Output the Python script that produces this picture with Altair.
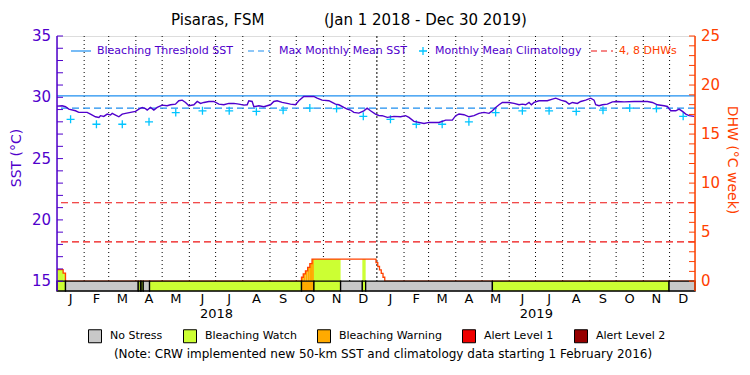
import altair as alt
import pandas as pd

# ---------------- data ----------------
BASE = pd.Timestamp("2018-01-01")
END_DAY = 728  # Dec 30 2019

# daily SST (days since Jan 1 2018, deg C)
sst_day = [0, 5.9, 9.7, 13.5, 21.1, 24.9, 34.4, 38.2, 43.9, 47.8,
           49.6, 53.4, 57.3, 61.1, 63.0, 66.8, 70.6, 74.4, 78.2, 83.9,
           89.6, 93.4, 97.2, 101.0, 102.9, 106.7, 110.5, 114.3, 120.0, 125.7,
           129.5, 135.2, 139.0, 142.9, 146.7, 150.5, 156.2, 160.0, 163.8, 167.6,
           173.3, 179.0, 184.7, 190.4, 196.1, 201.8, 207.5, 213.2, 217.0, 218.9,
           222.7, 224.6, 230.3, 236.0, 239.8, 243.6, 247.4, 251.2, 256.9, 262.6,
           266.4, 272.1, 275.9, 281.6, 293.0, 296.8, 302.5, 310.2, 314.0, 317.8,
           321.6, 327.3, 331.1, 334.9, 338.7, 344.4, 350.1, 353.9, 357.7, 363.4,
           367.2,
           371.0, 376.9, 384.5, 392.1, 397.8, 401.6, 407.3, 418.8, 424.5, 435.9,
           443.5, 451.1, 454.9, 458.7, 464.4, 470.1, 475.8, 481.5, 487.3, 493.0,
           496.8, 500.6, 504.4, 508.2, 515.8, 521.5, 527.2, 531.0, 534.8, 538.6,
           541.3, 544.3, 550.0, 559.5, 565.3, 569.1, 574.8, 580.5, 584.3, 588.1,
           593.8, 597.6, 603.3, 609.0, 612.8, 614.7, 618.5, 622.3, 628.0, 633.8,
           639.5, 647.1, 658.5, 673.7, 679.4, 685.1, 692.7, 696.5, 700.3, 706.1,
           709.8, 713.7, 717.5, 721.3, 727.0]
sst_val = [29.28, 29.31, 29.23, 29.04, 28.90, 28.77, 28.77, 28.63, 28.41, 28.36,
           28.50, 28.44, 28.63, 28.55, 28.69, 28.55, 28.41, 28.63, 28.69, 28.77,
           28.85, 29.04, 29.17, 29.07, 28.96, 29.17, 28.96, 29.17, 29.36, 29.31,
           29.39, 29.44, 29.72, 29.77, 29.58, 29.31, 29.39, 29.66, 29.50, 29.58,
           29.66, 29.66, 29.44, 29.39, 29.50, 29.50, 29.44, 29.36, 29.39, 29.72,
           29.66, 29.23, 29.31, 29.23, 29.31, 29.39, 29.66, 29.72, 29.58, 29.50,
           29.44, 29.39, 29.72, 30.07, 30.07, 29.93, 29.77, 29.72, 29.58, 29.44,
           29.39, 29.17, 29.04, 28.96, 28.77, 28.71, 28.90, 29.12, 28.90, 28.63,
           28.52,
           28.50, 28.36, 28.44, 28.41, 28.50, 28.36, 28.04, 27.87, 27.95, 27.95,
           28.14, 28.14, 28.50, 28.63, 28.58, 28.41, 28.50, 28.69, 28.77, 28.69,
           28.90, 29.17, 29.39, 29.58, 29.58, 29.50, 29.39, 29.44, 29.39, 29.58,
           29.39, 29.58, 29.72, 29.72, 29.85, 29.93, 29.77, 29.66, 29.44, 29.58,
           29.50, 29.66, 29.77, 29.93, 29.77, 29.39, 29.31, 29.39, 29.44, 29.63,
           29.66, 29.63, 29.66, 29.66, 29.58, 29.39, 29.31, 29.25, 28.90, 28.90,
           29.04, 28.85, 28.63, 28.50, 28.44]

# monthly mean climatology (Jan..Dec)
clim_vals = [28.2, 27.8, 27.8, 28.0, 28.75, 28.9, 28.9, 28.85, 28.95, 29.12, 29.08, 28.45]
MMM = 29.12
THRESHOLD = 30.12
DHW_LINES = [4, 8]

# DHW as steps: start day, value
dhw_day = [0, 7, 9.7, 279, 281, 283.5, 286, 288.5, 291, 364, 366, 368, 370, 372, 374]
dhw_val = [1.17, 0.83, 0, 0.4, 0.75, 1.05, 1.4, 1.8, 2.26, 1.9, 1.5, 1.15, 0.8, 0.4, 0]

# alert level periods: start day, level
alert_day = [0, 9.7, 92.7, 95.3, 96, 98.4, 105.6, 279, 293.2, 323.6, 348.4, 352.2, 496.8, 698.4]
alert_lvl = ["Bleaching Watch", "No Stress", "Bleaching Watch", "No Stress", "Bleaching Watch",
             "No Stress", "Bleaching Watch", "Bleaching Warning", "Bleaching Watch", "No Stress",
             "Bleaching Watch", "No Stress", "Bleaching Watch", "No Stress"]

levels = ["No Stress", "Bleaching Watch", "Bleaching Warning", "Alert Level 1", "Alert Level 2"]
level_colors = ["#c8c8c8", "#ccff33", "#ffaa00", "#ee0000", "#960000"]
month_letters = ["J", "F", "M", "A", "M", "J", "J", "A", "S", "O", "N", "D"]
years = [2018, 2019]
sst_labels = [15, 20, 25, 30, 35]
dhw_labels = [0, 5, 10, 15, 20, 25]

# ---------------- helpers ----------------
def iso(day):
    return (BASE + pd.Timedelta(days=float(day))).strftime("%Y-%m-%dT%H:%M:%S")

W, H = 638, 255
PURPLE = "#5000cc"
BLUE = "#1e8ff0"
CYAN = "#00c4ff"
ORANGE = "#ff4000"
RED = "#ee1111"
FONT = "DejaVu Sans"

SST_LO, SST0, SST1 = 14.2, 15, 35   # plot bottom, left axis range
DHW0, DHW1 = 0, 25                  # right axis range (same pixels as 15..35)
K = (SST1 - SST0) / (DHW1 - DHW0)
TO_SST = f"{SST0} + datum.dhw * {K}"
BAR_PX = H * (SST0 - SST_LO) / (SST1 - SST_LO)   # height of the alert strip

x_scale = alt.Scale(domain=[alt.DateTime(year=2018, month=1, date=1),
                            alt.DateTime(year=2019, month=12, date=30)])
sst_scale = alt.Scale(domain=[SST_LO, SST1], nice=False, zero=False)

sst_df = pd.DataFrame({"date": [iso(d) for d in sst_day], "sst": sst_val})

clim_rows, month_rows, grid_rows = [], [], []
for y in years:
    for m in range(12):
        start = pd.Timestamp(year=y, month=m + 1, day=1)
        mid = start + pd.Timedelta(days=start.days_in_month / 2)
        clim_rows.append({"date": mid.strftime("%Y-%m-%dT%H:%M:%S"), "clim": clim_vals[m]})
        month_rows.append({"date": mid.strftime("%Y-%m-%dT%H:%M:%S"), "lab": month_letters[m]})
        if not (y == 2018 and m == 0):
            grid_rows.append({"date": start.strftime("%Y-%m-%dT%H:%M:%S"),
                              "kind": "year" if m == 0 else "month"})
clim_df = pd.DataFrame(clim_rows)
month_df = pd.DataFrame(month_rows)
grid_df = pd.DataFrame(grid_rows)
year_df = pd.DataFrame({"date": [pd.Timestamp(year=y, month=7, day=2).strftime("%Y-%m-%dT%H:%M:%S") for y in years],
                        "lab": [str(y) for y in years]})

alert_end = alert_day[1:] + [END_DAY]
alert_df = pd.DataFrame({"start": [iso(d) for d in alert_day], "end": [iso(d) for d in alert_end],
                         "level": alert_lvl})

dhw_end = dhw_day[1:] + [END_DAY]
dhw_line_df = pd.DataFrame({"date": [iso(d) for d in dhw_day + [END_DAY]], "dhw": dhw_val + [0]})
fill_rows = []
for s0, e0, v in zip(dhw_day, dhw_end, dhw_val):
    if v <= 0:
        continue
    for s1, e1, lev in zip(alert_day, alert_end, alert_lvl):
        if lev == "No Stress":
            continue
        a, b = max(s0, s1), min(e0, e1)
        if b > a:
            fill_rows.append({"start": iso(a), "end": iso(b), "dhw": v, "level": lev})
fill_df = pd.DataFrame(fill_rows)

color_scale = alt.Scale(domain=levels, range=level_colors)
alert_legend = alt.Legend(orient="none", legendX=31, legendY=293, direction="horizontal",
                          columns=5, title=None, symbolType="square", symbolSize=169,
                          symbolStrokeColor="black", symbolStrokeWidth=1,
                          symbolOpacity=1, labelFontSize=11, labelFont=FONT,
                          labelColor="black", labelOffset=8, columnPadding=18,
                          padding=0)


def X(f):
    return alt.X(f, scale=x_scale, axis=None)


def Ys(f):
    return alt.Y(f, scale=sst_scale, axis=None)


# ---------------- marks ----------------
grid_month = alt.Chart(grid_df[grid_df.kind == "month"].reset_index(drop=True)).mark_rule(
    color="black", strokeDash=[1, 3], strokeWidth=1).encode(
    x=X("date:T"), y=alt.value(0), y2=alt.value(H - BAR_PX))
grid_year = alt.Chart(grid_df[grid_df.kind == "year"].reset_index(drop=True)).mark_rule(
    color="black", strokeDash=[2, 2], strokeWidth=1).encode(
    x=X("date:T"), y=alt.value(0), y2=alt.value(H - BAR_PX))

dhw_fill = alt.Chart(fill_df).transform_calculate(ys=TO_SST, y0=str(SST0)).mark_rect().encode(
    x=X("start:T"), x2="end:T",
    y=Ys("y0:Q"), y2="ys:Q",
    color=alt.Color("level:N", scale=color_scale, legend=alert_legend))

dhw_line = alt.Chart(dhw_line_df).transform_calculate(ys=TO_SST).mark_line(
    color=ORANGE, strokeWidth=1.3, interpolate="step-after").encode(
    x=X("date:T"), y=Ys("ys:Q"))

dhw_rules = alt.Chart(pd.DataFrame({"dhw": DHW_LINES})).transform_calculate(ys=TO_SST).mark_rule(
    color=RED, strokeDash=[7, 4], strokeWidth=1.2).encode(y=Ys("ys:Q"))

thr_rule = alt.Chart(pd.DataFrame({"v": [THRESHOLD]})).mark_rule(color=BLUE, strokeWidth=1.2).encode(
    y=Ys("v:Q"))
mmm_rule = alt.Chart(pd.DataFrame({"v": [MMM]})).mark_rule(
    color=BLUE, strokeWidth=1.2, strokeDash=[7, 4]).encode(y=Ys("v:Q"))

sst_line = alt.Chart(sst_df).mark_line(color=PURPLE, strokeWidth=1.4).encode(
    x=X("date:T"), y=Ys("sst:Q"))

CROSS = "M-1,0L1,0M0,-1L0,1"
clim_pts = alt.Chart(clim_df).mark_point(shape=CROSS, size=64, filled=False,
                                         color=CYAN, strokeWidth=1.3, opacity=1).encode(
    x=X("date:T"), y=Ys("clim:Q"))

alert_bar = alt.Chart(alert_df).mark_rect(stroke="black", strokeWidth=1.3).encode(
    x=X("start:T"), x2="end:T",
    y=alt.value(H - BAR_PX), y2=alt.value(H),
    color=alt.Color("level:N", scale=color_scale, legend=alert_legend))

# left axis (SST), drawn from the scale
left_domain = alt.Chart(pd.DataFrame({"t": [0]})).mark_rule(color=PURPLE, strokeWidth=1.5).encode(
    x=alt.value(0), y=alt.value(0), y2=alt.value(H))
sst_ticks = alt.Chart(pd.DataFrame({"v": list(range(SST0, SST1 + 1))})).mark_rule(
    color=PURPLE, strokeWidth=1).encode(y=Ys("v:Q"), x=alt.value(0), x2=alt.value(6))
left_labels = alt.Chart(pd.DataFrame({"v": sst_labels})).mark_text(
    fontSize=15, font=FONT, color=PURPLE, align="right", baseline="middle").encode(
    y=Ys("v:Q"), x=alt.value(-6), text="v:Q")

# right axis (DHW)
right_domain = alt.Chart(pd.DataFrame({"t": [0]})).mark_rule(color=ORANGE, strokeWidth=1.5).encode(
    x=alt.value(W), y=alt.value(0), y2=alt.value(H))
dhw_ticks = alt.Chart(pd.DataFrame({"dhw": list(range(DHW0, DHW1 + 1))})).transform_calculate(
    ys=TO_SST).mark_rule(color=ORANGE, strokeWidth=1).encode(
    y=Ys("ys:Q"), x=alt.value(W - 6), x2=alt.value(W))
right_labels = alt.Chart(pd.DataFrame({"dhw": dhw_labels})).transform_calculate(
    ys=TO_SST).mark_text(fontSize=15, font=FONT, color=ORANGE, align="left", baseline="middle").encode(
    y=Ys("ys:Q"), x=alt.value(W + 6), text="dhw:Q")

month_text = alt.Chart(month_df).mark_text(fontSize=13, font=FONT, color="black", baseline="middle").encode(
    x=X("date:T"), y=alt.value(H + 8), text="lab:N")
year_text = alt.Chart(year_df).mark_text(fontSize=13, font=FONT, color="black", baseline="middle").encode(
    x=X("date:T"), y=alt.value(H + 23), text="lab:N")


def label(txt, px, py, color="black", size=11, align="left", angle=0):
    return alt.Chart(pd.DataFrame({"t": [txt]})).mark_text(
        fontSize=size, font=FONT, color=color, align=align, baseline="middle", angle=angle).encode(
        x=alt.value(px), y=alt.value(py), text="t:N")


def seg(px1, px2, py, color, dash=None):
    kw = dict(color=color, strokeWidth=1.2)
    if dash:
        kw["strokeDash"] = dash
    return alt.Chart(pd.DataFrame({"t": [0]})).mark_rule(**kw).encode(
        x=alt.value(px1), x2=alt.value(px2), y=alt.value(py))


leg_cross = alt.Chart(pd.DataFrame({"t": [0]})).mark_point(
    shape=CROSS, size=64, filled=False, color=CYAN, strokeWidth=1.3, opacity=1).encode(
    x=alt.value(366), y=alt.value(15))

texts = [
    label("Pisaras, FSM", 114, -16, size=15),
    label("(Jan 1 2018 - Dec 30 2019)", 267, -16, size=15),
    seg(14, 34, 15, BLUE), label("Bleaching Threshold SST", 40, 15, PURPLE),
    seg(191, 213, 15, BLUE, [6, 4]), label("Max Monthly Mean SST", 222, 15, PURPLE),
    leg_cross, label("Monthly Mean Climatology", 378, 15, PURPLE),
    seg(534, 556, 15, RED, [6, 4]), label("4, 8 DHWs", 562, 15, ORANGE),
    label("SST (°C)", -40, 122, PURPLE, size=14, align="center", angle=270),
    label("DHW (°C week)", W + 37, 124, ORANGE, size=14, align="center", angle=90),
    label("(Note: CRW implemented new 50-km SST and climatology data starting 1 February 2016)",
          326, 318, size=12, align="center"),
]

chart = alt.layer(
    grid_month, grid_year, dhw_fill, dhw_line, dhw_rules,
    thr_rule, mmm_rule, clim_pts, sst_line, alert_bar,
    left_domain, sst_ticks, left_labels, right_domain, dhw_ticks, right_labels,
    month_text, year_text, *texts
).properties(
    width=W, height=H,
    autosize=alt.AutoSizeParams(type="none"),
    padding={"left": 49, "top": 28, "right": 47, "bottom": 76},
).configure_view(stroke="black", strokeWidth=1.2).configure(font=FONT)

chart.save("out.html", embed_options={"renderer": "svg", "actions": False})
